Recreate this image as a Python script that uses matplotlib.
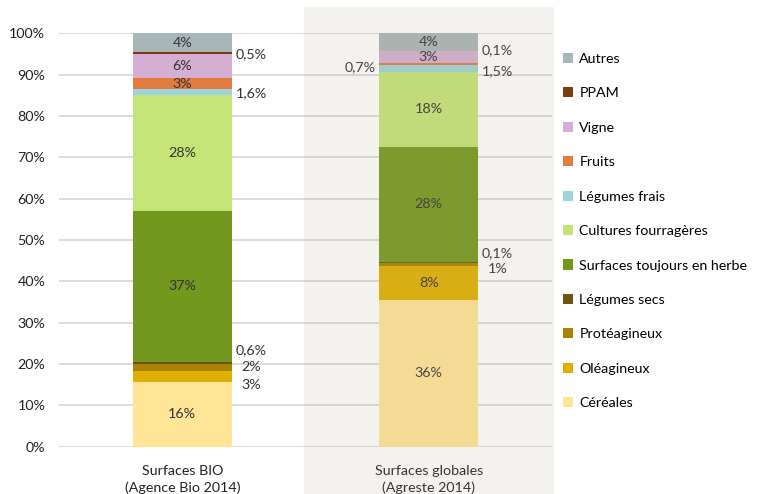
import matplotlib.pyplot as plt
from matplotlib.patches import Rectangle, Patch
import numpy as np

plt.rcParams['font.family'] = ['Lato', 'DejaVu Sans']

# categories / series (bottom to top of the stack)
groups = ["Surfaces BIO\n(Agence Bio 2014)", "Surfaces globales\n(Agreste 2014)"]
series = ["Céréales", "Oléagineux", "Protéagineux", "Légumes secs",
          "Surfaces toujours en herbe", "Cultures fourragères", "Légumes frais",
          "Fruits", "Vigne", "PPAM", "Autres"]
bio = [15.7, 2.6, 1.8, 0.5, 36.5, 27.9, 1.4, 2.7, 6.0, 0.4, 4.5]
globales = [35.6, 8.0, 0.9, 0.1, 28.0, 18.1, 1.5, 0.7, 2.8, 0.1, 4.2]
bio_labels = ["16%", "3%", "2%", "0,6%", "37%", "28%", "1,6%", "3%", "6%", "0,5%", "4%"]
glob_labels = ["36%", "8%", "1%", "0,1%", "28%", "18%", "1,5%", "0,7%", "3%", "0,1%", "4%"]

colors = ["#FFE596", "#E0B000", "#A88200", "#6E5410", "#73981E", "#C5E477",
          "#9DD3DC", "#E37A3F", "#D4AFD3", "#7A3B10", "#A6B6B9"]

# where each label goes: 'c' inside, 'r' right of bar, 'l' left of bar,
# plus a vertical shift in pixels (positive = up)
bio_pos = [('c', 0), ('r', -9), ('r', 0), ('r', 12), ('c', 0), ('c', 0),
           ('r', -1), ('c', 0), ('c', 0), ('r', -1), ('c', 0)]
glob_pos = [('c', 0), ('c', 0), ('r', -4), ('r', 9), ('c', 0), ('c', 0),
            ('r', -2.5), ('l', -3), ('c', 0), ('r', 0.5), ('c', 0)]

fig = plt.figure(figsize=(7.58, 4.94), dpi=100)
ax = fig.add_axes([0.078, 0.0957, 0.65, 0.837])

x = np.arange(len(groups))
width = 0.4
txt_color = "#333333"
fs = 10.3

for gi, (vals, labs, pos) in enumerate([(bio, bio_labels, bio_pos),
                                        (globales, glob_labels, glob_pos)]):
    bottom = 0
    for si, v in enumerate(vals):
        ax.bar(x[gi], v / 100, width, bottom=bottom / 100, color=colors[si],
               zorder=3, linewidth=0)
        mid = (bottom + v / 2) / 100
        kind, dy = pos[si]
        if kind == 'c':
            ax.text(x[gi], mid, labs[si], ha='center', va='center',
                    fontsize=fs, color=txt_color, zorder=4)
        else:
            xx = x[gi] + (width / 2 + 0.08) * (1 if kind == 'r' else -1)
            ax.annotate(labs[si], (xx, mid), xytext=(0, dy * 0.72),
                        textcoords='offset points', ha='center', va='center',
                        fontsize=fs, color=txt_color, zorder=4,
                        annotation_clip=False)
        bottom += v

ax.set_xlim(-0.5, 1.5)
ax.set_ylim(0, 1)
ax.set_yticks(np.arange(0, 1.01, 0.1))
ax.set_yticklabels([f"{int(round(t * 100))}%" for t in np.arange(0, 1.01, 0.1)])
ax.set_xticks(x)
ax.set_xticklabels(groups, linespacing=1.4)
ax.tick_params(axis='both', length=0, labelsize=fs, labelcolor="#222222")
ax.tick_params(axis='x', pad=13.5)
ax.tick_params(axis='y', pad=10)
ax.grid(axis='y', color="#D9D9D9", linewidth=1.3, zorder=0)
for sp in ax.spines.values():
    sp.set_visible(False)

# shaded band behind the second group (slightly tints what it covers)
fig.patches.append(Rectangle((0.401, 0.0), 0.33, 0.986, transform=fig.transFigure,
                             facecolor="#b6a88e", alpha=0.15, zorder=10,
                             linewidth=0))

handles = [Patch(facecolor=c, linewidth=0) for c in colors[::-1]]
fig.legend(handles, series[::-1], loc='upper left', bbox_to_anchor=(0.735, 0.905),
           frameon=False, fontsize=fs, handlelength=0.7, handleheight=0.7,
           handletextpad=0.45, labelspacing=1.57, borderaxespad=0)

fig.savefig("out.png", dpi=100)
